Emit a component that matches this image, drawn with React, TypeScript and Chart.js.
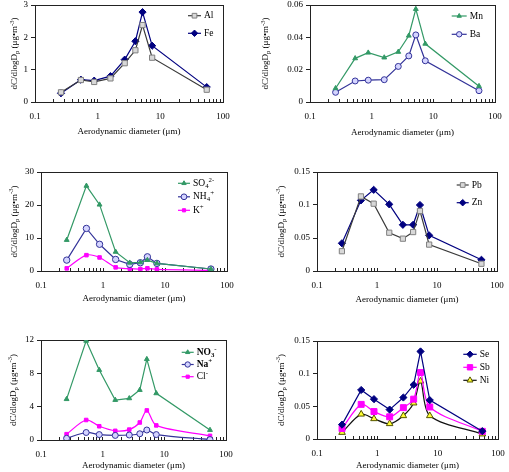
import React, { useEffect, useRef } from "react";
import { Chart, registerables } from "chart.js";

Chart.register(...registerables);

// ---------- data ----------
const diameters = [0.26, 0.54, 0.88, 1.6, 2.7, 4.0, 5.2, 7.4, 55];
const xTickLabels = ["0.1", "1", "10", "100"];

const al = [0.30, 0.68, 0.62, 0.73, 1.20, 1.60, 2.38, 1.37, 0.38];
const fe = [0.27, 0.69, 0.66, 0.80, 1.31, 1.88, 2.78, 1.74, 0.46];
const mn = [0.0085, 0.027, 0.0305, 0.0275, 0.031, 0.041, 0.0575, 0.036, 0.0098];
const ba = [0.006, 0.013, 0.0135, 0.0138, 0.022, 0.0285, 0.0415, 0.0255, 0.007];
const so4 = [9.4, 25.8, 20.1, 5.8, 2.5, 2.6, 3.3, 2.3, 0.6];
const nh4 = [3.3, 12.9, 8.1, 3.5, 2.0, 2.5, 4.3, 2.3, 0.6];
const kPlus = [0.8, 4.8, 4.1, 1.1, 0.7, 0.6, 0.8, 0.5, 0.2];
const pb = [0.030, 0.113, 0.102, 0.058, 0.049, 0.059, 0.091, 0.040, 0.011];
const zn = [0.042, 0.107, 0.123, 0.101, 0.070, 0.070, 0.100, 0.054, 0.017];
const no3 = [4.9, 11.9, 8.4, 4.8, 5.0, 6.0, 9.7, 5.6, 1.2];
const na = [0.2, 0.9, 0.65, 0.55, 0.6, 0.75, 1.2, 0.65, 0.05];
const cl = [0.7, 2.4, 1.65, 1.1, 1.25, 2.1, 3.55, 1.75, 0.5];
const se = [0.022, 0.075, 0.061, 0.045, 0.0635, 0.083, 0.134, 0.0595, 0.012];
const sb = [0.016, 0.053, 0.042, 0.034, 0.048, 0.061, 0.1017, 0.049, 0.0117];
const ni = [0.010, 0.038, 0.031, 0.0234, 0.0356, 0.055, 0.0885, 0.0356, 0.0076];

const yTicksA = [0, 1, 2, 3];
const yLabelsA = ["0", "1", "2", "3"];
const yTicksB = [0, 0.02, 0.04, 0.06];
const yLabelsB = ["0", "0.02", "0.04", "0.06"];
const yTicksC = [0, 10, 20, 30];
const yLabelsC = ["0", "10", "20", "30"];
const yTicksD = [0, 0.05, 0.1, 0.15];
const yLabelsD = ["0", "0.05", "0.1", "0.15"];
const yTicksE = [0, 4, 8, 12];
const yLabelsE = ["0", "4", "8", "12"];

const xTitle = "Aerodynamic diameter (μm)";

// ---------- styling ----------
const FONT = "'Liberation Serif', 'Times New Roman', serif";
const FS = 9;
const AXIS = "#222";

type Seg = { t: string; k?: "sub" | "sup" };
const yTitle: Seg[] = [
  { t: "dC/dlogD" },
  { t: "p", k: "sub" },
  { t: " (μg•m" },
  { t: "-3", k: "sup" },
  { t: ")" },
];

type Series = {
  name: Seg[];
  data: number[];
  color: string;
  style: string;
  r: number;
  fill: string;
  border: string;
  smooth?: boolean;
  bold?: boolean;
};

type PanelCfg = {
  canvas: { x: number; y: number; w: number; h: number };
  plot: { L: number; R: number; T: number; B: number };
  xh: number;
  yMax: number;
  yTicks: number[];
  yLabels: string[];
  yTitleX: number;
  legend: { x: number; len: number; y: number; dy: number };
  series: Series[];
};

const GRAY_LINE = "#3a3a3a";
const NAVY = "#000080";
const GREEN = "#339966";
const SLATE = "#333399";
const MAGENTA = "#ff00ff";
const LAVENDER = "#d4d4ff";

const panels: PanelCfg[] = [
  {
    canvas: { x: 0, y: 0, w: 254, h: 145 },
    plot: { L: 35, R: 223, T: 3, B: 102 },
    xh: 35,
    yMax: 3,
    yTicks: yTicksA,
    yLabels: yLabelsA,
    yTitleX: 15,
    legend: { x: 188, len: 13, y: 15.7, dy: 17.6 },
    series: [
      { name: [{ t: "Al" }], data: al, color: GRAY_LINE, style: "rect", r: 3.7, fill: "#d8d8d8", border: "#808080" },
      { name: [{ t: "Fe" }], data: fe, color: NAVY, style: "rectRot", r: 3.6, fill: NAVY, border: NAVY },
    ],
  },
  {
    canvas: { x: 254, y: 0, w: 255, h: 145 },
    plot: { L: 310, R: 495, T: 3, B: 102 },
    xh: 36,
    yMax: 0.06,
    yTicks: yTicksB,
    yLabels: yLabelsB,
    yTitleX: 266,
    legend: { x: 451.7, len: 15, y: 16, dy: 18.3 },
    series: [
      { name: [{ t: "Mn" }], data: mn, color: GREEN, style: "triangle", r: 2.8, fill: GREEN, border: GREEN },
      { name: [{ t: "Ba" }], data: ba, color: SLATE, style: "circle", r: 3, fill: LAVENDER, border: SLATE },
    ],
  },
  {
    canvas: { x: 0, y: 145, w: 254, h: 162 },
    plot: { L: 41, R: 227, T: 172, B: 271 },
    xh: 33,
    yMax: 30,
    yTicks: yTicksC,
    yLabels: yLabelsC,
    yTitleX: 14.3,
    legend: { x: 178, len: 12, y: 183.3, dy: 13.5 },
    series: [
      { name: [{ t: "SO" }, { t: "4", k: "sub" }, { t: "2-", k: "sup" }], data: so4, color: GREEN, style: "triangle", r: 2.8, fill: GREEN, border: GREEN },
      { name: [{ t: "NH" }, { t: "4", k: "sub" }, { t: "+", k: "sup" }], data: nh4, color: SLATE, style: "circle", r: 3.2, fill: LAVENDER, border: SLATE },
      { name: [{ t: "K" }, { t: "+", k: "sup" }], data: kPlus, color: MAGENTA, style: "rect", r: 2.5, fill: MAGENTA, border: MAGENTA, smooth: true },
    ],
  },
  {
    canvas: { x: 254, y: 145, w: 255, h: 162 },
    plot: { L: 317, R: 497, T: 172, B: 271 },
    xh: 34,
    yMax: 0.15,
    yTicks: yTicksD,
    yLabels: yLabelsD,
    yTitleX: 281.7,
    legend: { x: 456.7, len: 12, y: 185, dy: 17.7 },
    series: [
      { name: [{ t: "Pb" }], data: pb, color: GRAY_LINE, style: "rect", r: 3.7, fill: "#d8d8d8", border: "#808080" },
      { name: [{ t: "Zn" }], data: zn, color: NAVY, style: "rectRot", r: 3.6, fill: NAVY, border: NAVY },
    ],
  },
  {
    canvas: { x: 0, y: 307, w: 254, h: 165 },
    plot: { L: 41, R: 226, T: 340, B: 440 },
    xh: 31,
    yMax: 12,
    yTicks: yTicksE,
    yLabels: yLabelsE,
    yTitleX: 13.3,
    legend: { x: 181.7, len: 12, y: 352.3, dy: 12.2 },
    series: [
      { name: [{ t: "NO" }, { t: "3", k: "sub" }, { t: "-", k: "sup" }], data: no3, color: GREEN, style: "triangle", r: 2.8, fill: GREEN, border: GREEN, bold: true },
      { name: [{ t: "Na" }, { t: "+", k: "sup" }], data: na, color: SLATE, style: "circle", r: 3, fill: LAVENDER, border: SLATE, smooth: true, bold: true },
      { name: [{ t: "Cl" }, { t: "-", k: "sup" }], data: cl, color: MAGENTA, style: "rect", r: 2.5, fill: MAGENTA, border: MAGENTA, smooth: true },
    ],
  },
  {
    canvas: { x: 254, y: 307, w: 255, h: 165 },
    plot: { L: 317, R: 498, T: 341, B: 439 },
    xh: 32,
    yMax: 0.15,
    yTicks: yTicksD,
    yLabels: yLabelsD,
    yTitleX: 281.7,
    legend: { x: 463.3, len: 13.4, y: 354.3, dy: 13 },
    series: [
      { name: [{ t: "Se" }], data: se, color: NAVY, style: "rectRot", r: 3.6, fill: NAVY, border: NAVY },
      { name: [{ t: "Sb" }], data: sb, color: MAGENTA, style: "rect", r: 4.2, fill: MAGENTA, border: MAGENTA, smooth: true },
      { name: [{ t: "Ni" }], data: ni, color: "#111111", style: "triangle", r: 3.8, fill: "#ffff33", border: "#555500", smooth: true },
    ],
  },
];

// x-axis tick positions: 1..9 x 10^n between 0.1 and 100
function logTickValues(): number[] {
  const out: number[] = [];
  for (let e = -1; e <= 1; e++) {
    for (let m = 1; m <= 9; m++) out.push(parseFloat((m * Math.pow(10, e)).toPrecision(3)));
  }
  out.push(100);
  return out;
}

function font(size: number, bold?: boolean) {
  return `${bold ? "bold " : ""}${size}px ${FONT}`;
}

function drawRich(ctx: CanvasRenderingContext2D, segs: Seg[], x: number, y: number, size: number, align: "left" | "center", bold?: boolean) {
  const small = size * 0.72;
  let total = 0;
  for (const s of segs) {
    ctx.font = font(s.k ? small : size, bold);
    total += ctx.measureText(s.t).width;
  }
  let cx = align === "center" ? x - total / 2 : x;
  ctx.textBaseline = "middle";
  ctx.textAlign = "left";
  for (const s of segs) {
    ctx.font = font(s.k ? small : size, bold);
    const dy = s.k === "sub" ? size * 0.3 : s.k === "sup" ? -size * 0.35 : 0;
    ctx.fillText(s.t, cx, y + dy);
    cx += ctx.measureText(s.t).width;
  }
}

function drawMarker(ctx: CanvasRenderingContext2D, style: string, x: number, y: number, r: number, fill: string, stroke: string) {
  ctx.beginPath();
  if (style === "rect") {
    const s = r * Math.SQRT1_2;
    ctx.rect(x - s, y - s, 2 * s, 2 * s);
  } else if (style === "rectRot") {
    ctx.moveTo(x, y - r);
    ctx.lineTo(x + r, y);
    ctx.lineTo(x, y + r);
    ctx.lineTo(x - r, y);
    ctx.closePath();
  } else if (style === "triangle") {
    for (let i = 0; i < 3; i++) {
      const a = (i * 2 * Math.PI) / 3;
      const px = x + Math.sin(a) * r;
      const py = y - Math.cos(a) * r;
      if (i === 0) ctx.moveTo(px, py);
      else ctx.lineTo(px, py);
    }
    ctx.closePath();
  } else {
    ctx.arc(x, y, r, 0, Math.PI * 2);
  }
  ctx.fillStyle = fill;
  ctx.fill();
  ctx.strokeStyle = stroke;
  ctx.lineWidth = 1;
  ctx.stroke();
}

function buildChart(canvas: HTMLCanvasElement, cfg: PanelCfg) {
  const { canvas: cv, plot } = cfg;
  const yw = plot.L - cv.x;
  const padRight = cv.x + cv.w - plot.R;
  const padTop = plot.T - cv.y;
  const padBottom = cv.y + cv.h - plot.B - cfg.xh;
  const xTicks = logTickValues();

  const deco = {
    id: "deco",
    beforeDatasetsDraw(chart: any) {
      const { ctx, chartArea: a } = chart;
      ctx.save();
      ctx.strokeStyle = AXIS;
      ctx.lineWidth = 1;
      ctx.strokeRect(Math.round(a.left) + 0.5, Math.round(a.top) + 0.5, Math.round(a.right - a.left), Math.round(a.bottom - a.top));
      ctx.restore();
    },
    afterDatasetsDraw(chart: any) {
      const { ctx, chartArea: a } = chart;
      ctx.save();
      // y title
      ctx.fillStyle = "#000";
      ctx.translate(cfg.yTitleX - cv.x, (a.top + a.bottom) / 2);
      ctx.rotate(-Math.PI / 2);
      drawRich(ctx, yTitle, 0, 0, FS, "center");
      ctx.restore();
      // legend
      ctx.save();
      const lg = cfg.legend;
      cfg.series.forEach((s, i) => {
        const y = lg.y - cv.y + i * lg.dy;
        const x0 = lg.x - cv.x;
        ctx.strokeStyle = s.color;
        ctx.lineWidth = 1.2;
        ctx.beginPath();
        ctx.moveTo(x0, y);
        ctx.lineTo(x0 + lg.len, y);
        ctx.stroke();
        drawMarker(ctx, s.style, x0 + lg.len / 2, y, s.r * 0.9, s.fill, s.border);
        ctx.fillStyle = "#000";
        drawRich(ctx, s.name, x0 + lg.len + 3, y, FS + 0.5, "left", s.bold);
      });
      ctx.restore();
    },
  };

  return new Chart(canvas, {
    type: "line",
    data: {
      datasets: cfg.series.map((s) => ({
        label: s.name.map((g) => g.t).join(""),
        data: diameters.map((d, i) => ({ x: d, y: s.data[i] })),
        borderColor: s.color,
        borderWidth: 1.2,
        backgroundColor: s.fill,
        pointStyle: s.style as any,
        pointRadius: s.r,
        pointBackgroundColor: s.fill,
        pointBorderColor: s.border,
        pointBorderWidth: 1,
        tension: s.smooth ? 0.3 : 0,
        fill: false,
      })),
    },
    options: {
      responsive: false,
      animation: false,
      devicePixelRatio: 1,
      events: [],
      layout: { padding: { left: 0, right: padRight, top: padTop, bottom: padBottom } },
      plugins: { legend: { display: false }, tooltip: { enabled: false }, title: { display: false } },
      scales: {
        x: {
          type: "logarithmic",
          position: "bottom",
          min: 0.1,
          max: 100,
          border: { display: false },
          grid: { drawOnChartArea: false, drawTicks: true, tickLength: -3, color: AXIS, lineWidth: 1 },
          ticks: {
            autoSkip: false,
            maxRotation: 0,
            minRotation: 0,
            padding: 12,
            color: "#000",
            font: { family: FONT, size: FS },
            callback: (v: any) => {
              const l = Math.log10(Number(v));
              if (Math.abs(l - Math.round(l)) < 1e-6) {
                const idx = Math.round(l) + 1;
                return xTickLabels[idx] ?? "";
              }
              return "";
            },
          },
          title: { display: true, text: xTitle, color: "#000", font: { family: FONT, size: FS }, padding: 0 },
          afterBuildTicks: (s: any) => {
            s.ticks = xTicks.map((v) => ({ value: v }));
          },
          afterFit: (s: any) => {
            s.height = cfg.xh;
            s.paddingLeft = 0;
            s.paddingRight = 0;
          },
        },
        y: {
          type: "linear",
          min: 0,
          max: cfg.yMax,
          border: { display: false },
          grid: { drawOnChartArea: false, drawTicks: true, tickLength: 4, color: AXIS, lineWidth: 1 },
          ticks: {
            padding: 3,
            color: "#000",
            font: { family: FONT, size: FS },
            callback: (_v: any, i: number) => cfg.yLabels[i] ?? "",
          },
          afterBuildTicks: (s: any) => {
            s.ticks = cfg.yTicks.map((v) => ({ value: v }));
          },
          afterFit: (s: any) => {
            s.width = yw;
            s.paddingTop = 0;
            s.paddingBottom = 0;
          },
        },
      },
    } as any,
    plugins: [deco],
  });
}

function Panel({ cfg }: { cfg: PanelCfg }) {
  const ref = useRef<HTMLCanvasElement>(null);
  useEffect(() => {
    const chart = buildChart(ref.current as HTMLCanvasElement, cfg);
    return () => chart.destroy();
  }, [cfg]);
  return (
    <canvas
      ref={ref}
      width={cfg.canvas.w}
      height={cfg.canvas.h}
      style={{ position: "absolute", left: cfg.canvas.x, top: cfg.canvas.y, width: cfg.canvas.w, height: cfg.canvas.h }}
    />
  );
}

export default function App() {
  return (
    <div style={{ position: "absolute", left: 0, top: 0, width: 509, height: 472, background: "#fff", overflow: "hidden" }}>
      {panels.map((p, i) => (
        <Panel key={i} cfg={p} />
      ))}
    </div>
  );
}
